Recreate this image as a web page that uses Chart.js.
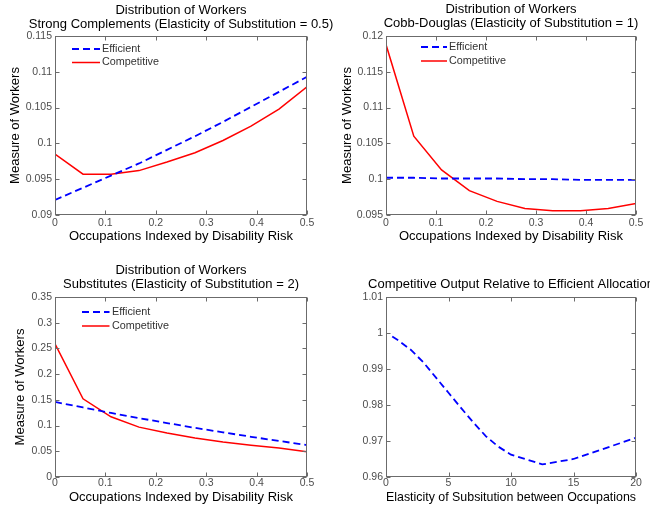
<!DOCTYPE html>
<html><head><meta charset="utf-8">
<script src="https://cdn.jsdelivr.net/npm/chart.js@4/dist/chart.umd.min.js"></script>
<style>
html,body{margin:0;padding:0;background:#fff;width:650px;height:512px;overflow:hidden;position:relative}
canvas{position:absolute;display:block}
</style></head><body>
<canvas id="c1" width="362" height="256" style="left:0px;top:0px"></canvas>
<canvas id="c2" width="362" height="256" style="left:330px;top:0px"></canvas>
<canvas id="c3" width="362" height="256" style="left:0px;top:256px"></canvas>
<canvas id="c4" width="362" height="256" style="left:330px;top:256px"></canvas>
<script>
// ---------- data ----------
const occX = [0, 0.0556, 0.1111, 0.1667, 0.2222, 0.2778, 0.3333, 0.3889, 0.4444, 0.5];
const effP1  = [0.0921, 0.0938, 0.0955, 0.0972, 0.0991, 0.1010, 0.1030, 0.1051, 0.1072, 0.1093];
const compP1 = [0.0985, 0.0957, 0.0957, 0.0962, 0.0974, 0.0987, 0.1004, 0.1024, 0.1048, 0.1079];
const effP2  = [0.1002, 0.1002, 0.1001, 0.1001, 0.1001, 0.1000, 0.1000, 0.0999, 0.0999, 0.0999];
const compP2 = [0.1188, 0.1060, 0.1013, 0.0984, 0.0969, 0.0959, 0.0956, 0.0956, 0.0959, 0.0966];
const effP3  = [0.146, 0.1352, 0.1245, 0.1145, 0.1049, 0.0956, 0.0869, 0.0782, 0.0701, 0.062];
const compP3 = [0.259, 0.152, 0.117, 0.097, 0.0855, 0.076, 0.068, 0.0616, 0.0564, 0.049];
const elastX = [0.5, 1, 2, 3, 4, 5, 6, 7, 8, 9, 10, 12.5, 15, 20];
const outputRel = [0.9990, 0.9979, 0.9953, 0.9918, 0.9876, 0.9834, 0.9792, 0.9751, 0.9713, 0.9684, 0.9662, 0.9635, 0.9650, 0.9709];

const occTicks = [0, 0.1, 0.2, 0.3, 0.4, 0.5];
const elastTicks = [0, 5, 10, 15, 20];
const yTicksP1 = [0.09, 0.095, 0.1, 0.105, 0.11, 0.115];
const yTicksP2 = [0.095, 0.1, 0.105, 0.11, 0.115, 0.12];
const yTicksP3 = [0, 0.05, 0.1, 0.15, 0.2, 0.25, 0.3, 0.35];
const yTicksP4 = [0.96, 0.97, 0.98, 0.99, 1, 1.01];

const titleP1 = ['Distribution of Workers', 'Strong Complements (Elasticity of Substitution = 0.5)'];
const titleP2 = ['Distribution of Workers', 'Cobb-Douglas (Elasticity of Substitution = 1)'];
const titleP3 = ['Distribution of Workers', 'Substitutes (Elasticity of Substitution = 2)'];
const titleP4 = ['Competitive Output Relative to Efficient Allocation'];
const xLabelOcc = 'Occupations Indexed by Disability Risk';
const xLabelElast = 'Elasticity of Subsitution between Occupations';
const yLabel = 'Measure of Workers';
const seriesNames = ['Efficient', 'Competitive'];

// ---------- styling ----------
const FONT = "'Liberation Sans', Arial, Helvetica, sans-serif";
Chart.defaults.font.family = FONT;
Chart.defaults.color = '#4d4d4d';
Chart.defaults.devicePixelRatio = 1;

const pts = (xs, ys) => xs.map((x, i) => ({x: x, y: ys[i]}));
const fmt = v => String(parseFloat(Number(v).toFixed(4)));

const boxPlugin = {
  id: 'matlabBox',
  afterDatasetsDraw(chart) {
    const {ctx, chartArea: a, scales} = chart;
    const L = Math.round(a.left) + 0.5, R = Math.round(a.right) - 0.5;
    const T = Math.round(a.top) + 0.5, B = Math.round(a.bottom) - 0.5;
    ctx.save();
    ctx.strokeStyle = '#6b6b6b';
    ctx.lineWidth = 1;
    ctx.strokeRect(L, T, R - L, B - T);
    ctx.beginPath();
    const tl = 4;
    scales.x.ticks.forEach(t => {
      const p = Math.round(scales.x.getPixelForValue(t.value)) + 0.5;
      ctx.moveTo(p, B); ctx.lineTo(p, B - tl);
      ctx.moveTo(p, T); ctx.lineTo(p, T + tl);
    });
    scales.y.ticks.forEach(t => {
      const p = Math.round(scales.y.getPixelForValue(t.value)) + 0.5;
      ctx.moveTo(L, p); ctx.lineTo(L + tl, p);
      ctx.moveTo(R, p); ctx.lineTo(R - tl, p);
    });
    ctx.stroke();
    ctx.restore();
  }
};

const legendPlugin = {
  id: 'innerLegend',
  afterDraw(chart) {
    const lg = chart.options.plugins.innerLegend;
    if (!lg || !lg.show) return;
    const ctx = chart.ctx;
    ctx.save();
    chart.data.datasets.forEach((ds, i) => {
      const y = lg.rows[i] - lg.oy;
      ctx.strokeStyle = ds.borderColor;
      ctx.lineWidth = ds.borderWidth;
      ctx.setLineDash(ds.borderDash || []);
      ctx.beginPath();
      ctx.moveTo(lg.x0 - lg.ox, y);
      ctx.lineTo(lg.x1 - lg.ox, y);
      ctx.stroke();
      ctx.setLineDash([]);
      ctx.fillStyle = '#333';
      ctx.font = '10.8px ' + FONT;
      ctx.textBaseline = 'middle';
      ctx.textAlign = 'left';
      ctx.fillText(ds.label, lg.tx - lg.ox, y);
    });
    ctx.restore();
  }
};

function build(o) {
  const h = 256, w = 362;
  const lt = o.plot.t - o.top, lb = o.plot.b - o.top;
  const yW = o.plot.l - o.left, y2W = w - (o.plot.r - o.left);
  const titleBottom = lt - o.titleTop - o.title.length * 14;
  const padBottom = h - lb - o.xH;
  const datasets = o.series.map(s => ({
    label: s.label, data: s.data, borderColor: s.color, borderWidth: s.width,
    borderDash: s.dash || [], pointRadius: 0, pointHoverRadius: 0, fill: false,
    tension: 0, yAxisID: 'y', xAxisID: 'x'
  }));
  return new Chart(document.getElementById(o.id), {
    type: 'line',
    data: {datasets},
    plugins: [boxPlugin, legendPlugin],
    options: {
      responsive: false, animation: false, events: [],
      layout: {padding: {left: 0, right: 0, top: o.titleTop, bottom: padBottom}},
      plugins: {
        legend: {display: false}, tooltip: {enabled: false},
        title: {display: true, text: o.title, color: '#000',
          font: {size: 13, weight: 'normal', lineHeight: '14px'},
          padding: {top: 0, bottom: titleBottom}},
        innerLegend: Object.assign({ox: o.left, oy: o.top}, o.legend || {show: false})
      },
      scales: {
        x: {type: 'linear', position: 'bottom', min: o.xMin, max: o.xMax,
          afterBuildTicks: s => { s.ticks = o.xTicks.map(v => ({value: v})); },
          afterFit: s => { s.height = o.xH; },
          grid: {display: false, drawTicks: false, tickLength: 0}, border: {display: false},
          ticks: {autoSkip: false, maxRotation: 0, padding: o.xTickPad, font: {size: 10.5}, callback: fmt},
          title: {display: true, text: o.xTitle, color: '#000', font: {size: 13}, padding: 0}},
        y: {type: 'linear', position: 'left', min: o.yMin, max: o.yMax,
          afterBuildTicks: s => { s.ticks = o.yTicks.map(v => ({value: v})); },
          afterFit: s => { s.width = yW; },
          grid: {display: false, drawTicks: false, tickLength: 0}, border: {display: false},
          ticks: {autoSkip: false, padding: 3, font: {size: 10.5}, callback: fmt},
          title: {display: !!o.yTitle, text: o.yTitle || '', color: '#000', font: {size: 13},
            padding: {top: o.yTitlePad, bottom: 0}}},
        y2: {type: 'linear', position: 'right', display: true,
          afterFit: s => { s.width = y2W; },
          grid: {display: false, drawTicks: false}, border: {display: false}, ticks: {display: false}}
      }
    }
  });
}

build({id: 'c1', left: 0, top: 0, plot: {l: 55, t: 36, r: 307, b: 215},
  title: titleP1, titleTop: 3.2, xH: 29.3, xTickPad: 1.5,
  xMin: 0, xMax: 0.5, xTicks: occTicks, yMin: 0.09, yMax: 0.115, yTicks: yTicksP1,
  xTitle: xLabelOcc, yTitle: yLabel, yTitlePad: 7.2,
  series: [
    {label: seriesNames[0], data: pts(occX, effP1), color: '#0000ff', width: 1.8, dash: [7, 4]},
    {label: seriesNames[1], data: pts(occX, compP1), color: '#ff0000', width: 1.5}
  ],
  legend: {show: true, x0: 72, x1: 100, tx: 102, rows: [49, 62.5]}});

build({id: 'c2', left: 330, top: 0, plot: {l: 386, t: 36, r: 636, b: 215},
  title: titleP2, titleTop: 2.7, xH: 29.3, xTickPad: 1.5,
  xMin: 0, xMax: 0.5, xTicks: occTicks, yMin: 0.095, yMax: 0.12, yTicks: yTicksP2,
  xTitle: xLabelOcc, yTitle: yLabel, yTitlePad: 9.2,
  series: [
    {label: seriesNames[0], data: pts(occX, effP2), color: '#0000ff', width: 1.8, dash: [7, 4]},
    {label: seriesNames[1], data: pts(occX, compP2), color: '#ff0000', width: 1.5}
  ],
  legend: {show: true, x0: 421, x1: 447, tx: 449, rows: [47, 61]}});

build({id: 'c3', left: 0, top: 256, plot: {l: 55, t: 297, r: 307, b: 477},
  title: titleP3, titleTop: 7.5, xH: 28.5, xTickPad: 0,
  xMin: 0, xMax: 0.5, xTicks: occTicks, yMin: 0, yMax: 0.35, yTicks: yTicksP3,
  xTitle: xLabelOcc, yTitle: yLabel, yTitlePad: 12.2,
  series: [
    {label: seriesNames[0], data: pts(occX, effP3), color: '#0000ff', width: 1.8, dash: [7, 4]},
    {label: seriesNames[1], data: pts(occX, compP3), color: '#ff0000', width: 1.5}
  ],
  legend: {show: true, x0: 82, x1: 109.5, tx: 112, rows: [312, 326]}});

build({id: 'c4', left: 330, top: 256, plot: {l: 386, t: 297, r: 636, b: 477},
  title: titleP4, titleTop: 21.5, xH: 28.5, xTickPad: 0,
  xMin: 0, xMax: 20, xTicks: elastTicks, yMin: 0.96, yMax: 1.01, yTicks: yTicksP4,
  xTitle: xLabelElast, yTitle: null, yTitlePad: 0,
  series: [
    {label: 'Competitive / Efficient Output', data: pts(elastX, outputRel), color: '#0000ff', width: 1.8, dash: [7, 4]}
  ]});
</script>
</body></html>
